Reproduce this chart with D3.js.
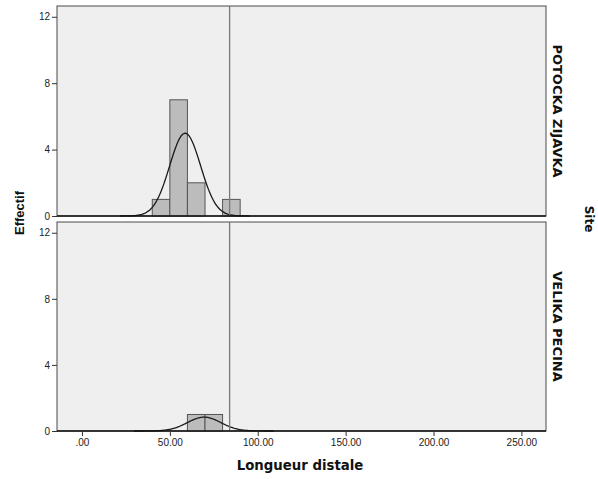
<!DOCTYPE html>
<html>
<head>
<meta charset="utf-8">
<script src="https://cdn.jsdelivr.net/npm/d3@7"></script>
<style>
  body { margin: 0; background: #fff; }
  svg { display: block; font-family: "DejaVu Sans", sans-serif; }
  .tick text { font-size: 10px; fill: #222; }
  .axisTitle { font-size: 13.3px; font-weight: bold; fill: #111; }
  .strip { font-size: 13px; font-weight: bold; fill: #111; }
</style>
</head>
<body>
<div id="plotSect"></div>
<script>
/* global d3 */

// data //
let sites = ["POTOCKA ZIJAVKA", "VELIKA PECINA"];
let binWidth = 10;
let potockaBins = [40, 50, 60, 80];
let potockaCounts = [1, 7, 2, 1];
let velikaBins = [60, 70];
let velikaCounts = [1, 1];
// fitted normal curve: mean, std dev, n
let curveMean = [58.7, 69.5];
let curveSD = [8.8, 9.5];
let curveN = [11, 2];
let refLine = [84];
let xTicks = [0, 50, 100, 150, 200, 250];
let yTicks = [0, 4, 8, 12];

// layout //
let SVGwidth = 598, SVGheight = 479;
let panelLeft = 57, panelRight = 546;
let panels = [{top: 6, bottom: 216}, {top: 222, bottom: 431}];

let svg = d3.select("#plotSect").append("svg")
    .attr("width", SVGwidth)
    .attr("height", SVGheight);

let xScale = d3.scaleLinear().domain([-14.2, 264]).range([panelLeft, panelRight]);

let binsList = [potockaBins, velikaBins];
let countsList = [potockaCounts, velikaCounts];

function normalPdf(x, m, s) {
    return Math.exp(-0.5 * Math.pow((x - m) / s, 2)) / (s * Math.sqrt(2 * Math.PI));
}

panels.forEach(function(p, i) {
    let yScale = d3.scaleLinear().domain([0, 12.65]).range([p.bottom, p.top]);
    let g = svg.append("g");

    g.append("rect")
        .attr("x", panelLeft)
        .attr("y", p.top)
        .attr("width", panelRight - panelLeft)
        .attr("height", p.bottom - p.top)
        .style("fill", "#efefef")
        .style("stroke", "#4a4a4a")
        .style("stroke-width", 1);

    let data = binsList[i].map(function(b, j) { return {x0: b, n: countsList[i][j]}; });

    g.selectAll(".bar")
        .data(data)
        .enter().append("rect")
        .attr("class", "bar")
        .attr("x", function(d) { return xScale(d.x0); })
        .attr("y", function(d) { return yScale(d.n); })
        .attr("width", function(d) { return xScale(d.x0 + binWidth) - xScale(d.x0); })
        .attr("height", function(d) { return yScale(0) - yScale(d.n); })
        .style("fill", "#bcbcbc")
        .style("stroke", "#555")
        .style("stroke-width", 1);

    // normal curve
    let m = curveMean[i], s = curveSD[i], n = curveN[i];
    let pts = d3.range(m - 4.2 * s, m + 4.2 * s, 0.5).map(function(x) {
        return [x, n * binWidth * normalPdf(x, m, s)];
    });
    let line = d3.line()
        .x(function(d) { return xScale(d[0]); })
        .y(function(d) { return yScale(d[1]); })
        .curve(d3.curveBasis);
    g.append("path")
        .datum(pts)
        .attr("d", line)
        .style("fill", "none")
        .style("stroke", "#1a1a1a")
        .style("stroke-width", 1.3);

    // reference line
    g.selectAll(".ref")
        .data(refLine)
        .enter().append("line")
        .attr("class", "ref")
        .attr("x1", function(d) { return xScale(d); })
        .attr("x2", function(d) { return xScale(d); })
        .attr("y1", p.top)
        .attr("y2", p.bottom)
        .style("stroke", "#7a7a7a")
        .style("stroke-width", 1.3);

    // y axis
    let yAxis = d3.axisLeft(yScale).tickValues(yTicks).tickSize(5).tickPadding(2).tickFormat(d3.format("d"));
    let ya = g.append("g")
        .attr("transform", "translate(" + panelLeft + ",0)")
        .call(yAxis);
    ya.select(".domain").remove();
    ya.selectAll(".tick line").style("stroke", "#333");

    // baseline
    g.append("line")
        .attr("x1", panelLeft).attr("x2", panelRight)
        .attr("y1", yScale(0)).attr("y2", yScale(0))
        .style("stroke", "#111")
        .style("stroke-width", 1.6);

    // strip label
    g.append("text")
        .attr("class", "strip")
        .attr("transform", "translate(" + 553 + "," + ((p.top + p.bottom) / 2) + ") rotate(90)")
        .style("text-anchor", "middle")
        .text(sites[i]);
});

// x axis on bottom panel
let xAxis = d3.axisBottom(xScale).tickValues(xTicks).tickSize(5).tickPadding(3)
    .tickFormat(function(d) { return d === 0 ? ".00" : d3.format(".2f")(d); });
let xa = svg.append("g")
    .attr("transform", "translate(0," + panels[1].bottom + ")")
    .call(xAxis);
xa.select(".domain").remove();
xa.selectAll(".tick line").style("stroke", "#333");

svg.append("text")
    .attr("class", "axisTitle")
    .attr("x", 300)
    .attr("y", 470)
    .style("text-anchor", "middle")
    .text("Longueur distale");

svg.append("text")
    .attr("class", "axisTitle")
    .attr("transform", "translate(24," + 213 + ") rotate(-90)")
    .style("text-anchor", "middle")
    .style("font-family", "'Liberation Sans', sans-serif")
    .style("font-size", "13px")
    .text("Effectif");

svg.append("text")
    .attr("class", "axisTitle")
    .attr("transform", "translate(585," + 219 + ") rotate(90)")
    .style("text-anchor", "middle")
    .style("font-size", "12px")
    .text("Site");
</script>
</body>
</html>
